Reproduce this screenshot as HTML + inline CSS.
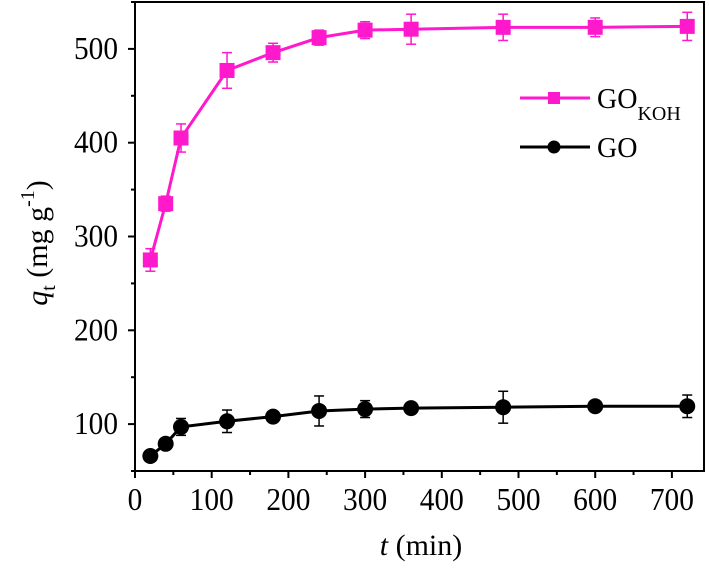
<!DOCTYPE html><html><head><meta charset="utf-8"><style>body{margin:0;background:#fff}svg{font-family:"Liberation Serif",serif}</style></head><body>
<svg id="c" width="709" height="563"></svg>
<script>
const times=[20,40,60,120,180,240,300,360,480,600,720];
const koh=[275,335,405,477,496,512,520,521,523,523,524];
const kohErr=[12,8,15,19,10,8,9,16,14,10,15];
const go=[66,79,97,103,108,114,116,117,118,119,119];
const goErr=[4,3,9,12,5,16,9,5,17,3,12];
const xTicks=[0,100,200,300,400,500,600,700];
const yTicks=[100,200,300,400,500];
const NS='http://www.w3.org/2000/svg';
const svg=document.getElementById('c');
const L=135,R=704,T=2,B=471;
const xs=v=>L+v*0.767;
const ys=v=>B-(v-50)/500*(B-T);
function el(t,a,p){const e=document.createElementNS(NS,t);for(const k in a)e.setAttribute(k,a[k]);(p||svg).appendChild(e);return e;}
const frame=el('rect',{x:L,y:T,width:R-L,height:B-T,fill:'none',stroke:'#000','stroke-width':2});


xTicks.forEach(v=>{const x=xs(v);
 el('line',{x1:x,x2:x,y1:B,y2:B+7,stroke:'#000','stroke-width':2});
 if(v<700)el('line',{x1:xs(v+50),x2:xs(v+50),y1:B,y2:B+4,stroke:'#000','stroke-width':2});
 const s=String(v);
 const t=el('text',{x:x,y:510,'text-anchor':'middle','font-size':32,textLength:s.length*14.7,lengthAdjust:'spacingAndGlyphs'});t.textContent=s;
 
 });
yTicks.forEach(v=>{const y=ys(v);
 el('line',{x1:L,x2:L-7,y1:y,y2:y,stroke:'#000','stroke-width':2});
 el('line',{x1:L,x2:L-4,y1:ys(v+50),y2:ys(v+50),stroke:'#000','stroke-width':2});
 const t=el('text',{x:L-17,y:y+10,'text-anchor':'end','font-size':32,textLength:44,lengthAdjust:'spacingAndGlyphs'});t.textContent=v;
 
 });
el('line',{x1:L,x2:L-4,y1:ys(50),y2:ys(50),stroke:'#000','stroke-width':2});
const xt=el('text',{x:421,y:555,'text-anchor':'middle','font-size':30});
xt.innerHTML='<tspan font-style="italic">t</tspan> (min)';


const yt=el('text',{transform:'translate(47,243) rotate(-90)','text-anchor':'middle','font-size':30});
yt.innerHTML='<tspan font-style="italic">q</tspan><tspan font-size="20" dy="8">t</tspan><tspan dy="-8"> (mg g</tspan><tspan font-size="20" dy="-13">-1</tspan><tspan dy="13">)</tspan>';


function series(vals,errs,color,shape,name){
 const g=el('g',{});
 
 
 el('polyline',{points:times.map((t,i)=>xs(t)+','+ys(vals[i])).join(' '),fill:'none',stroke:color,'stroke-width':3},g);
 times.forEach((t,i)=>{const x=xs(t),y1=ys(vals[i]+errs[i]),y2=ys(vals[i]-errs[i]);
  el('line',{x1:x,x2:x,y1:y1,y2:y2,stroke:color,'stroke-width':1.5},g);
  el('line',{x1:x-5,x2:x+5,y1:y1,y2:y1,stroke:color,'stroke-width':1.5},g);
  el('line',{x1:x-5,x2:x+5,y1:y2,y2:y2,stroke:color,'stroke-width':1.5},g);
  let m;
  if(shape==='sq')m=el('rect',{x:x-7.5,y:ys(vals[i])-7.5,width:15,height:15,fill:color},g);
  else m=el('circle',{cx:x,cy:ys(vals[i]),r:8,fill:color},g);
  
  });
}
series(koh,kohErr,'#ff19cc','sq','series-go-koh');
series(go,goErr,'#000','ci','series-go');
const lg=el('g',{});


el('line',{x1:520,x2:590,y1:98,y2:98,stroke:'#ff19cc','stroke-width':3},lg);
el('rect',{x:548,y:92,width:12,height:12,fill:'#ff19cc'},lg);
const t1=el('text',{x:597,y:108,'font-size':28},lg);t1.innerHTML='GO<tspan font-size="20" dy="12">KOH</tspan>';
el('line',{x1:520,x2:590,y1:147,y2:147,stroke:'#000','stroke-width':3},lg);
el('circle',{cx:554,cy:147,r:6.5,fill:'#000'},lg);
const t2=el('text',{x:597,y:157,'font-size':28},lg);t2.textContent='GO';
</script></body></html>
